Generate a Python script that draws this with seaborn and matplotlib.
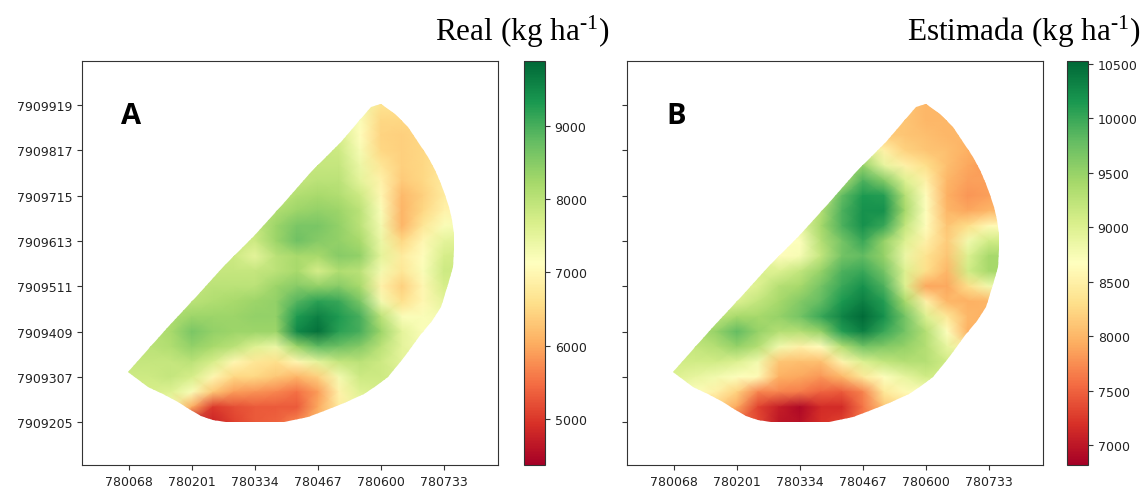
import numpy as np
import matplotlib
matplotlib.use("Agg")
import matplotlib.pyplot as plt
import seaborn as sns
from matplotlib.patches import Polygon

_ = np.nan

# grid nodes of the yield maps
eastings = [780024, 780068, 780112, 780157, 780201, 780246, 780290, 780334, 780379,
            780423, 780467, 780512, 780556, 780600, 780645, 780689, 780733, 780778]
northings = [7909953, 7909919, 7909885, 7909851, 7909817, 7909783, 7909749, 7909715,
             7909681, 7909647, 7909613, 7909579, 7909545, 7909511, 7909477, 7909443,
             7909409, 7909375, 7909341, 7909307, 7909273, 7909239, 7909205, 7909171]

x_ticks = [780068, 780201, 780334, 780467, 780600, 780733]
y_ticks = [7909919, 7909817, 7909715, 7909613, 7909511, 7909409, 7909307, 7909205]
real_cbar_ticks = [5000, 6000, 7000, 8000, 9000]
est_cbar_ticks = [7000, 7500, 8000, 8500, 9000, 9500, 10000, 10500]

# field outline
field_e = [780600, 780630, 780657, 780678, 780699, 780714, 780727, 780735, 780744, 780750,
           780754, 780754, 780752, 780744, 780735, 780727, 780708, 780684, 780651, 780615,
           780589, 780564, 780522, 780480, 780446, 780395, 780273, 780245, 780220, 780195,
           780171, 780140, 780108, 780066, 780150, 780209, 780269, 780332, 780393, 780452,
           780516, 780579]
field_n = [7909921, 7909899, 7909869, 7909836, 7909802, 7909773, 7909741, 7909716, 7909689,
           7909660, 7909628, 7909595, 7909554, 7909523, 7909493, 7909464, 7909433, 7909403,
           7909354, 7909306, 7909286, 7909268, 7909248, 7909230, 7909216, 7909205, 7909205,
           7909210, 7909219, 7909234, 7909250, 7909268, 7909284, 7909318, 7909419, 7909487,
           7909556, 7909624, 7909696, 7909768, 7909836, 7909914]

real_values = [
    [_, _, _, _, _, _, _, _, _, _, _, _, 7400, 6700, 6600, _, _, _],
    [_, _, _, _, _, _, _, _, _, _, _, 7500, 7400, 6650, 6600, 6500, _, _],
    [_, _, _, _, _, _, _, _, _, _, _, 7500, 7200, 6500, 6500, 6500, _, _],
    [_, _, _, _, _, _, _, _, _, _, 7800, 7700, 7100, 6450, 6400, 6500, 6600, _],
    [_, _, _, _, _, _, _, _, _, 7900, 7900, 7800, 7250, 6500, 6400, 6500, 6700, _],
    [_, _, _, _, _, _, _, _, 7900, 7900, 7900, 7900, 7400, 6700, 6400, 6500, 6700, 6800],
    [_, _, _, _, _, _, _, 7900, 7900, 7900, 8000, 8000, 7500, 6900, 6350, 6500, 6800, 6900],
    [_, _, _, _, _, _, _, 7900, 7900, 8100, 8200, 8100, 7800, 7000, 6150, 6400, 6800, 6900],
    [_, _, _, _, _, _, 7900, 7900, 8100, 8300, 8400, 8300, 8000, 7200, 6100, 6500, 6900, 7000],
    [_, _, _, _, _, _, 7800, 7900, 8300, 8600, 8600, 8400, 8000, 7300, 6100, 6700, 7200, 7300],
    [_, _, _, _, _, 7800, 7800, 7800, 8300, 8700, 8500, 8400, 8200, 7400, 6500, 7000, 7500, 7600],
    [_, _, _, _, _, 7900, 7800, 7500, 8000, 8200, 8200, 8500, 8400, 7500, 6800, 7100, 7700, 7800],
    [_, _, _, _, 7900, 7900, 7900, 7900, 8000, 8200, 7700, 8100, 8000, 7300, 6700, 7200, 7800, 7800],
    [_, _, _, 7900, 7900, 8000, 8000, 8000, 8300, 8500, 8400, 8500, 8200, 6900, 6400, 7000, 7700, 7700],
    [_, _, _, 8000, 8000, 8100, 8200, 8300, 8400, 8900, 9200, 9100, 8600, 7300, 6600, 7000, 7500, 7500],
    [_, _, 8000, 8100, 8300, 8300, 8300, 8400, 8400, 9300, 9600, 9300, 9000, 8000, 7200, 7200, 7300, 7300],
    [_, 8000, 8000, 8200, 8600, 8400, 8300, 8300, 8300, 9500, 9800, 9200, 9000, 8300, 7500, 7200, 7200, _],
    [_, 8000, 8000, 8100, 8400, 8200, 8000, 7600, 7400, 8300, 8800, 8700, 8500, 8000, 7500, 7300, 7300, _],
    [7900, 7900, 7900, 7900, 8000, 7700, 7000, 6700, 6600, 7000, 7500, 7900, 8000, 7800, 7500, 7500, _, _],
    [7800, 7800, 7800, 7900, 7700, 7000, 6500, 6500, 6300, 6100, 6400, 7300, 7800, 7800, 7700, _, _, _],
    [_, 7700, 7700, 7600, 7200, 6300, 5900, 5800, 5700, 5500, 5900, 6900, 7600, 7700, 7700, _, _, _],
    [_, _, 7300, 7300, 6000, 5000, 5200, 5300, 5300, 5300, 6000, 6800, 7300, 7500, _, _, _, _],
    [_, _, _, 6500, 4500, 4800, 5100, 5300, 5400, 5700, 6200, 6800, 7200, _, _, _, _, _],
    [_, _, _, 6500, 5000, 4900, 5200, 5300, 5400, 5700, 6200, 6800, _, _, _, _, _, _],
]

est_values = [
    [_, _, _, _, _, _, _, _, _, _, _, _, 8200, 8000, 8000, _, _, _],
    [_, _, _, _, _, _, _, _, _, _, _, 8150, 8100, 8000, 8000, 8000, _, _],
    [_, _, _, _, _, _, _, _, _, _, _, 8100, 8100, 8000, 8000, 8000, _, _],
    [_, _, _, _, _, _, _, _, _, _, 8500, 8150, 8100, 8050, 8000, 8000, 7950, _],
    [_, _, _, _, _, _, _, _, _, 9000, 9000, 8500, 8200, 8100, 8050, 7950, 7950, _],
    [_, _, _, _, _, _, _, _, 9200, 9300, 9500, 8900, 8500, 8300, 8050, 7900, 7800, 7800],
    [_, _, _, _, _, _, _, 9000, 9100, 9300, 9900, 9600, 9000, 8500, 8000, 7850, 7850, 7850],
    [_, _, _, _, _, _, _, 9000, 9100, 9800, 10150, 10100, 9300, 8650, 7950, 7800, 7850, 7850],
    [_, _, _, _, _, _, 8800, 8900, 9300, 9900, 10200, 10200, 9400, 8700, 8000, 7900, 8000, 8000],
    [_, _, _, _, _, _, 8700, 8900, 9400, 9900, 10200, 10000, 9200, 8650, 8100, 8300, 8600, 8600],
    [_, _, _, _, _, 8800, 8700, 8700, 9300, 9700, 10000, 9500, 9000, 8500, 8150, 8800, 9100, 9100],
    [_, _, _, _, _, 9000, 8650, 8750, 9200, 9700, 9800, 9500, 8850, 8350, 8100, 9000, 9400, 9400],
    [_, _, _, _, 9000, 9000, 9000, 9200, 9500, 9900, 10000, 9700, 9000, 8300, 8000, 9100, 9400, 9400],
    [_, _, _, 9000, 8900, 9000, 9300, 9400, 9700, 10000, 10200, 9900, 9000, 7900, 7900, 8300, 8800, 8800],
    [_, _, _, 9000, 9000, 9200, 9400, 9600, 9800, 10150, 10350, 10100, 9400, 8500, 8000, 7950, 8000, 8000],
    [_, _, 9200, 9200, 9400, 9400, 9500, 9700, 10000, 10300, 10500, 10200, 9700, 9000, 8400, 8000, 7950, 7950],
    [_, 9200, 9300, 9500, 9800, 9500, 9300, 9300, 9500, 10100, 10350, 10000, 9700, 9300, 8700, 7950, 8000, _],
    [_, 9200, 9200, 9300, 9500, 9300, 8800, 8500, 8650, 9300, 9700, 9600, 9500, 9300, 8900, 8500, 8500, _],
    [9000, 9100, 9100, 9100, 9000, 8800, 8100, 8050, 8050, 8550, 9000, 9200, 9300, 9300, 9100, 9100, _, _],
    [9000, 9000, 8900, 8800, 8700, 8600, 7950, 7900, 7800, 8000, 8400, 8700, 8900, 9100, 9100, _, _, _],
    [_, 8800, 8700, 8500, 8200, 7700, 7700, 7650, 7500, 7450, 7700, 8400, 8600, 8700, 8700, _, _, _],
    [_, _, 8100, 8200, 7900, 7300, 7050, 6900, 7150, 7150, 7600, 8100, 8300, 8400, _, _, _, _],
    [_, _, _, 7800, 7400, 7350, 7000, 6950, 7200, 7300, 7600, 8000, 8200, _, _, _, _, _],
    [_, _, _, 7800, 7400, 7350, 7000, 6950, 7200, 7300, 7600, 8000, _, _, _, _, _, _],
]

plt.rcParams["mathtext.fontset"] = "custom"
plt.rcParams["mathtext.rm"] = "Liberation Serif"
plt.rcParams["mathtext.it"] = "Liberation Serif:italic"
plt.rcParams["mathtext.bf"] = "Liberation Serif:bold"

W, H = 1142, 489
fig = plt.figure(figsize=(W / 100, H / 100), dpi=100)


def px_axes(left, top, right, bottom):
    return fig.add_axes([left / W, 1 - bottom / H, (right - left) / W, (bottom - top) / H])


def draw_map(values, left, cb_left, vmin, vmax, cbar_ticks, letter, show_ylabels):
    ax = px_axes(left, 62, left + 416, 466)
    cax = px_axes(cb_left, 62, cb_left + 21, 466)
    sns.heatmap(np.array(values, dtype=float), ax=ax, cbar_ax=cax, cmap="RdYlGn",
                vmin=vmin, vmax=vmax, shading="gouraud",
                xticklabels=False, yticklabels=False, cbar_kws={"ticks": cbar_ticks})
    col_idx = np.arange(len(eastings))
    row_idx = np.arange(len(northings))
    north_asc = northings[::-1]
    to_row = lambda n: np.interp(n, north_asc, row_idx[::-1])
    to_col = lambda e: np.interp(e, eastings, col_idx)

    # the matrix is wider than the field, so it gets cut to the outline
    outline = Polygon(np.column_stack([to_col(field_e), to_row(field_n)]), closed=True,
                      transform=ax.transData, fill=False, edgecolor="none")
    ax.add_patch(outline)
    ax.collections[0].set_clip_path(outline)

    ax.set_xlim(-1.24, 18.57)
    ax.set_ylim(24.83, -1.92)
    ax.set_xticks(to_col(x_ticks))
    ax.set_xticklabels([str(v) for v in x_ticks], rotation=0, fontsize=9)
    ax.set_yticks(to_row(y_ticks))
    if show_ylabels:
        ax.set_yticklabels([str(v) for v in y_ticks], rotation=0, fontsize=9)
    else:
        ax.set_yticklabels([])
    ax.tick_params(length=3.5, width=0.8, color="#333333", labelcolor="#222222")
    for spine in ax.spines.values():
        spine.set_visible(True)
        spine.set_linewidth(0.8)
        spine.set_color("#333333")
    ax.text(0.094, 0.847, letter, transform=ax.transAxes, fontsize=21,
            fontweight="bold", family="Open Sans", color="black")

    cbar = ax.collections[0].colorbar
    cbar.outline.set_visible(True)
    cbar.outline.set_linewidth(0.8)
    cbar.outline.set_edgecolor("#333333")
    cbar.ax.tick_params(labelsize=9, length=3.5, width=0.8, color="#333333", labelcolor="#222222")
    return ax


draw_map(real_values, 82, 524, 4372, 9887, real_cbar_ticks, "A", True)
draw_map(est_values, 627, 1067, 6816, 10528, est_cbar_ticks, "B", False)

fig.text(609 / W, 1 - 41 / H, r"Real (kg ha$^{\mathrm{\text{-}1}}$)", ha="right", va="baseline",
         fontsize=22.5, family="Liberation Serif", color="black")
fig.text(1140 / W, 1 - 41 / H, r"Estimada (kg ha$^{\mathrm{\text{-}1}}$)", ha="right", va="baseline",
         fontsize=22.5, family="Liberation Serif", color="black")

fig.savefig("out.png", dpi=100)
